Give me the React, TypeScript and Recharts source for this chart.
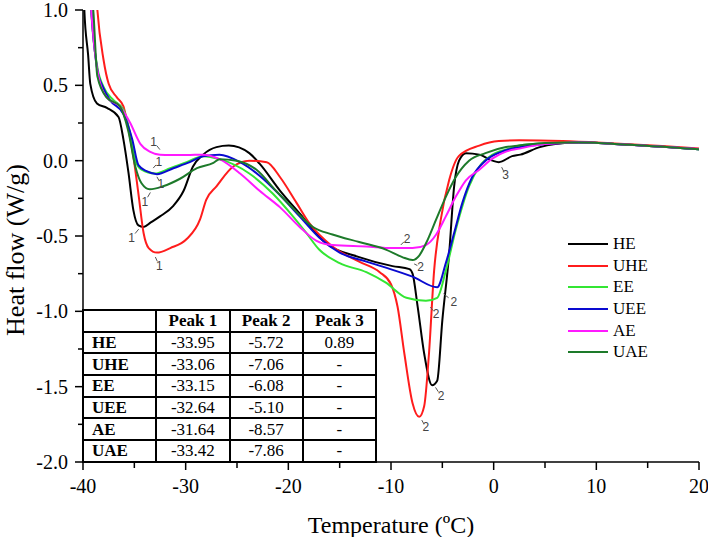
import { LineChart, Line, XAxis, YAxis, ReferenceDot } from "recharts"

// temperature (°C) / heat flow (W/g)
const heT = [-39.95, -39.87, -39.5, -39.29, -38.64, -37.67, -36.54, -36.06, -35.57, -35.09, -34.6, -34.1, -33.4, -32.5, -31.2, -30.2, -29.3, -28.3, -27.0, -25.8, -23.8, -22.8, -20.8, -18.9, -16.3, -13.1, -9.85, -8.2, -7.9, -7.4, -6.77, -6.0, -5.5, -5.0, -4.34, -3.85, -3.37, -2.7, -1.4, -0.1, 0.5, 1.8, 2.6, 4.5, 6.0, 8.3, 13.1, 20]
const heV = [1.15, 1.0, 0.7, 0.51, 0.38, 0.35, 0.29, 0.14, -0.08, -0.33, -0.43, -0.44, -0.41, -0.37, -0.3, -0.2, -0.04, 0.04, 0.09, 0.1, 0.05, -0.02, -0.2, -0.35, -0.55, -0.64, -0.7, -0.72, -0.75, -0.97, -1.28, -1.49, -1.46, -1.06, -0.62, -0.17, 0.0, 0.05, 0.04, 0.0, -0.01, 0.03, 0.04, 0.09, 0.11, 0.12, 0.105, 0.075]

const uheT = [-38.75, -38.6, -38.0, -37.5, -36.7, -36.06, -35.6, -35.1, -34.6, -34.1, -33.6, -32.8, -31.5, -29.9, -28.6, -28.0, -27.0, -25.4, -23.8, -22.1, -20.8, -19.2, -17.9, -15.7, -13.1, -11.1, -10.0, -9.36, -8.7, -7.9, -7.25, -6.77, -6.3, -5.8, -5.15, -4.34, -3.4, -1.4, 0.5, 2.5, 6.7, 11.5, 16.4, 20]
const uheV = [1.15, 1.0, 0.67, 0.51, 0.42, 0.36, 0.22, 0.03, -0.22, -0.48, -0.58, -0.61, -0.58, -0.52, -0.39, -0.26, -0.17, -0.04, 0.0, -0.01, -0.11, -0.28, -0.42, -0.57, -0.67, -0.74, -0.82, -0.97, -1.28, -1.61, -1.7, -1.63, -1.28, -0.73, -0.39, -0.13, 0.03, 0.1, 0.13, 0.135, 0.13, 0.115, 0.097, 0.08]

const eeT = [-39.3, -39.2, -38.6, -38.0, -37.0, -36.06, -35.4, -34.9, -34.3, -33.0, -31.5, -29.9, -28.3, -26.7, -23.8, -21.5, -19.55, -18.25, -17.0, -15.0, -12.4, -10.5, -8.5, -6.6, -5.5, -4.66, -3.7, -2.4, -1.4, -0.1, 1.5, 2.5, 5, 8.3, 13.1, 20]
const eeV = [1.15, 1.0, 0.62, 0.49, 0.4, 0.34, 0.18, 0.0, -0.06, -0.085, -0.05, -0.01, 0.03, 0.01, -0.085, -0.22, -0.37, -0.48, -0.59, -0.68, -0.74, -0.81, -0.91, -0.93, -0.91, -0.73, -0.46, -0.17, -0.04, 0.04, 0.08, 0.1, 0.115, 0.12, 0.105, 0.075]

const ueeT = [-39.35, -39.2, -38.6, -38.0, -37.35, -36.06, -35.2, -34.6, -33.8, -32.8, -31.2, -29.6, -28.3, -26.7, -24.7, -22.8, -20.8, -18.9, -17.0, -15.0, -12.4, -10.5, -7.9, -5.5, -4.66, -3.85, -3.05, -2.1, -0.8, 0.8, 2.5, 5, 8.3, 13.1, 20]
const ueeV = [1.15, 1.0, 0.6, 0.48, 0.4, 0.31, 0.14, -0.03, -0.07, -0.09, -0.05, -0.01, 0.03, 0.04, -0.01, -0.1, -0.23, -0.37, -0.51, -0.61, -0.67, -0.71, -0.77, -0.84, -0.68, -0.48, -0.28, -0.11, 0.0, 0.06, 0.09, 0.11, 0.12, 0.105, 0.075]

const aeT = [-39.35, -39.2, -38.6, -37.7, -36.4, -35.4, -34.4, -33.5, -32.5, -31.5, -29.9, -28.3, -26.7, -24.7, -22.8, -20.8, -18.9, -17.3, -15.7, -12.4, -9.85, -7.9, -6.6, -5.6, -4.66, -3.7, -2.7, -1.4, -0.1, 1.2, 2.5, 5, 8.3, 13.1, 20]
const aeV = [1.15, 1.0, 0.6, 0.42, 0.36, 0.25, 0.11, 0.06, 0.04, 0.037, 0.037, 0.04, 0.01, -0.085, -0.2, -0.31, -0.44, -0.53, -0.56, -0.57, -0.58, -0.58, -0.56, -0.49, -0.37, -0.24, -0.13, -0.06, 0.015, 0.06, 0.08, 0.11, 0.12, 0.105, 0.078]

const uaeT = [-39.2, -39.0, -38.6, -37.7, -36.4, -35.6, -34.9, -34.3, -33.5, -32.2, -30.55, -28.9, -27.3, -26.7, -25.05, -23.1, -21.2, -19.2, -17.6, -15.7, -13.1, -10.5, -8.9, -7.9, -7.25, -6.6, -5.6, -4.66, -3.7, -2.4, -0.8, 1.2, 2.5, 5, 8.3, 13.1, 20]
const uaeV = [1.15, 1.0, 0.56, 0.42, 0.36, 0.2, -0.04, -0.15, -0.19, -0.17, -0.12, -0.05, -0.015, 0.01, 0.0, -0.06, -0.2, -0.34, -0.44, -0.49, -0.54, -0.59, -0.64, -0.66, -0.63, -0.55, -0.39, -0.24, -0.11, 0.0, 0.05, 0.09, 0.1, 0.118, 0.12, 0.105, 0.075]

const xTicks = [-40, -35, -30, -25, -20, -15, -10, -5, 0, 5, 10, 15, 20]
const yTicks = [-2, -1.75, -1.5, -1.25, -1, -0.75, -0.5, -0.25, 0, 0.25, 0.5, 0.75, 1]

// peak table
const tableHeader = ["", "Peak 1", "Peak 2", "Peak 3"]
const sampleNames = ["HE", "UHE", "EE", "UEE", "AE", "UAE"]
const peak1 = ["-33.95", "-33.06", "-33.15", "-32.64", "-31.64", "-33.42"]
const peak2 = ["-5.72", "-7.06", "-6.08", "-5.10", "-8.57", "-7.86"]
const peak3 = ["0.89", "-", "-", "-", "-", "-"]

// peak markers: [temperature, heat flow, label]
const peakMarks: [number, number, string][] = [
  [-34.4, -0.44, "1"], [-33.05, -0.625, "1"], [-33.3, -0.06, "1"], [-32.9, -0.095, "1"], [-32.35, 0.06, "1"], [-33.3, -0.195, "1"],
  [-5.8, -1.49, "2"], [-7.1, -1.71, "2"], [-6.3, -0.96, "2"], [-5.15, -0.87, "2"], [-9.2, -0.57, "2"], [-7.9, -0.68, "2"],
  [0.68, -0.03, "3"],
]
const markOffsets = [
  [-9, 11], [5, 11], [7, -8], [5, 9], [-8, -10], [-7, 12],
  [7, 11], [5, 9], [7, 9], [13, 10], [8, -8], [8, 4],
  [5, 10],
]

const SERIES = [
  { name: "HE", t: heT, v: heV, color: "#000000" },
  { name: "UHE", t: uheT, v: uheV, color: "#ff1c1c" },
  { name: "EE", t: eeT, v: eeV, color: "#33e633" },
  { name: "UEE", t: ueeT, v: ueeV, color: "#0a0ad0" },
  { name: "AE", t: aeT, v: aeV, color: "#ff1aff" },
  { name: "UAE", t: uaeT, v: uaeV, color: "#1d7a2a" },
]

const SERIF = "'Liberation Serif', Tinos, 'Times New Roman', 'DejaVu Serif', serif"

const XTick = (props: any) => {
  const { x, y, payload } = props
  const major = payload.value % 10 === 0
  return (
    <g>
      <line x1={x} y1={y} x2={x} y2={y + (major ? 8 : 6)} stroke="#000" strokeWidth={1.5} />
      {major && (
        <text x={x} y={y + 31} textAnchor="middle" fontSize={20} style={{ fontFamily: SERIF }} fill="#000">
          {payload.value}
        </text>
      )}
    </g>
  )
}

const YTick = (props: any) => {
  const { x, y, payload } = props
  const v = payload.value as number
  const major = Math.abs(v * 2 - Math.round(v * 2)) < 1e-6
  return (
    <g>
      <line x1={x} y1={y} x2={x - (major ? 8 : 5)} y2={y} stroke="#000" strokeWidth={1.5} />
      {major && (
        <text x={x - 15} y={y} textAnchor="end" dominantBaseline="central" fontSize={20} style={{ fontFamily: SERIF }} fill="#000">
          {v.toFixed(1)}
        </text>
      )}
    </g>
  )
}

const YTitle = (props: any) => {
  const { x, y, height } = props.viewBox
  const cx = x + 15
  const cy = y + height / 2 + 14
  return (
    <text x={cx} y={cy} textAnchor="middle" dominantBaseline="central" fontSize={26} style={{ fontFamily: SERIF }}
      transform={`rotate(-90, ${cx}, ${cy})`} fill="#000">
      Heat flow (W/g)
    </text>
  )
}

const XTitle = (props: any) => {
  const { x, y, width } = props.viewBox
  return (
    <text x={x + width / 2} y={y + 71} textAnchor="middle" fontSize={24} style={{ fontFamily: SERIF }} fill="#000">
      Temperature (ºC)
    </text>
  )
}

const cell: React.CSSProperties = {
  border: "2px solid #000",
  padding: 0,
  height: 19.7,
  textAlign: "center",
  fontSize: 17,
  lineHeight: "17px",
}

export default function App() {
  return (
    <div style={{ position: "absolute", left: 0, top: 0, width: 708, height: 537, background: "#fff", fontFamily: SERIF }}>
      <LineChart width={708} height={537} margin={{ top: 10, right: 9, left: 0, bottom: 0 }} style={{ overflow: "visible" }}>
        <XAxis
          type="number"
          dataKey="t"
          domain={[-40, 20]}
          ticks={xTicks}
          allowDataOverflow
          height={75}
          tickSize={0}
          tickMargin={0}
          tickLine={false}
          axisLine={{ stroke: "#000", strokeWidth: 1.5 }}
          tick={<XTick />}
          label={<XTitle />}
        />
        <YAxis
          type="number"
          dataKey="v"
          domain={[-2, 1]}
          ticks={yTicks}
          allowDataOverflow
          width={83}
          tickSize={0}
          tickMargin={0}
          tickLine={false}
          axisLine={{ stroke: "#000", strokeWidth: 1.5 }}
          tick={<YTick />}
          label={<YTitle />}
        />
        {SERIES.map((s) => (
          <Line
            key={s.name}
            name={s.name}
            data={s.t.map((t, i) => ({ t, v: s.v[i] }))}
            dataKey="v"
            type="monotone"
            stroke={s.color}
            strokeWidth={2}
            dot={false}
            activeDot={false}
            isAnimationActive={false}
          />
        ))}
        {peakMarks.map(([t, v, label], i) => {
          const [dx, dy] = markOffsets[i]
          return (
            <ReferenceDot
              key={i}
              x={t}
              y={v}
              r={0}
              shape={(p: any) => (
                <g>
                  <line x1={p.cx + dx * 0.2} y1={p.cy + dy * 0.2} x2={p.cx + dx * 0.6} y2={p.cy + dy * 0.6} stroke="#555" strokeWidth={1} />
                  <text x={p.cx + dx} y={p.cy + dy} textAnchor="middle" dominantBaseline="central" fontSize={12}
                    style={{ fontFamily: "'Liberation Sans', Arial, sans-serif" }} fill="#444">
                    {label}
                  </text>
                </g>
              )}
            />
          )
        })}
      </LineChart>
      <div style={{ position: "absolute", left: 568, top: 233, fontSize: 17, color: "#000" }}>
        {SERIES.map((s) => (
          <div key={s.name} style={{ display: "flex", alignItems: "center", height: 21.7 }}>
            <div style={{ width: 40, height: 2, background: s.color, marginRight: 5 }} />
            <span>{s.name}</span>
          </div>
        ))}
      </div>
      <table
        style={{
          position: "absolute", left: 82, top: 309, width: 295, borderCollapse: "collapse",
          tableLayout: "fixed", fontFamily: SERIF, background: "#fff", color: "#000",
        }}
      >
        <thead>
          <tr>
            {tableHeader.map((h, i) => (
              <th key={i} style={{ ...cell, fontWeight: "bold" }}>{h}</th>
            ))}
          </tr>
        </thead>
        <tbody>
          {sampleNames.map((n, i) => (
            <tr key={n}>
              <td style={{ ...cell, fontWeight: "bold", textAlign: "left", paddingLeft: 8 }}>{n}</td>
              <td style={cell}>{peak1[i]}</td>
              <td style={cell}>{peak2[i]}</td>
              <td style={cell}>{peak3[i]}</td>
            </tr>
          ))}
        </tbody>
      </table>
    </div>
  )
}
